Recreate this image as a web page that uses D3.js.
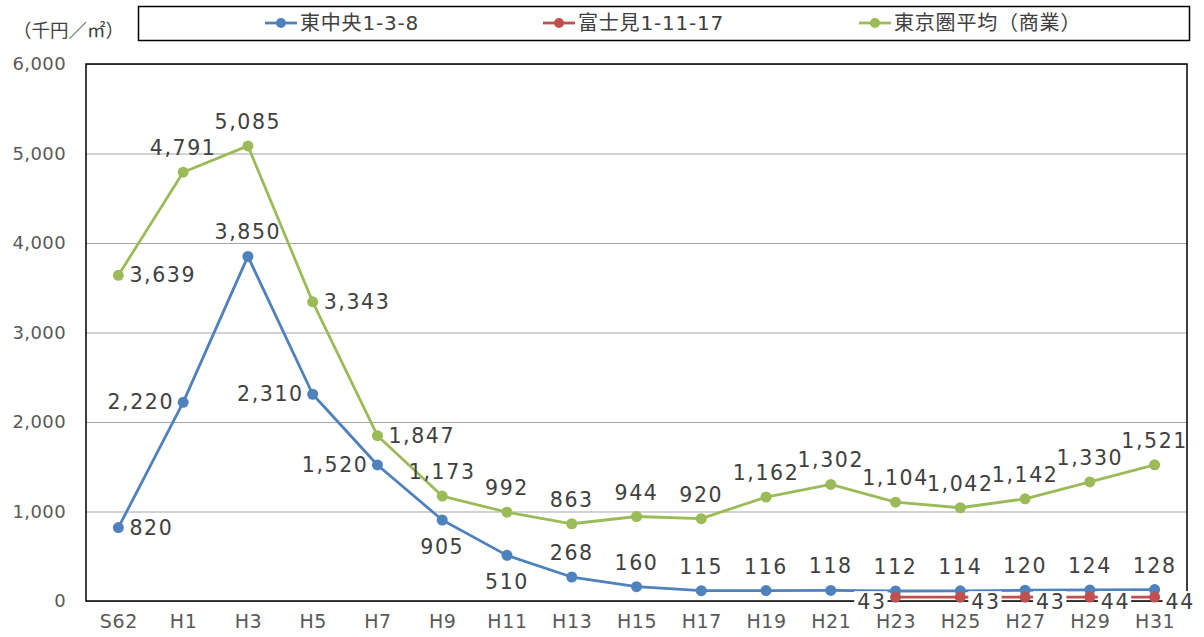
<!DOCTYPE html>
<html>
<head>
<meta charset="utf-8">
<script src="https://cdn.jsdelivr.net/npm/d3@7"></script>
<style>
  html, body { margin: 0; padding: 0; background: #fff; }
  svg { display: block; }
  text { font-family: "DejaVu Sans", "Noto Sans CJK JP", sans-serif; }
</style>
</head>
<body>
<svg id="chart" width="1204" height="637"></svg>
<script>
// ---- data ----
const categories = ["S62","H1","H3","H5","H7","H9","H11","H13","H15","H17","H19","H21","H23","H25","H27","H29","H31"];
const seriesNames = ["東中央1-3-8", "富士見1-11-17", "東京圏平均（商業）"];
const higashiChuo = [820,2220,3850,2310,1520,905,510,268,160,115,116,118,112,114,120,124,128];
const fujimi = [null,null,null,null,null,null,null,null,null,null,null,null,43,43,43,44,44];
const tokyoAvg = [3639,4791,5085,3343,1847,1173,992,863,944,920,1162,1302,1104,1042,1142,1330,1521];
const yTicks = [0,1000,2000,3000,4000,5000,6000];
const yUnit = "（千円／㎡）";
// label placement (t=above, b=below, l=left, r=right)
const blueLabelPos = ["r","l","t","l","l","b","b","t","t","t","t","t","t","t","t","t","t"];
const redLabelPos  = ["r","r","r","r","r","r","r","r","r","r","r","r","l","r","r","r","r"];
const greenLabelPos= ["r","t","t","r","r","t","t","t","t","t","t","t","t","t","t","t","t"];
const colors = ["#4F81BD", "#C0504D", "#9BBB59"];

// ---- layout ----
const svg = d3.select("#chart");
const L = 86, R = 1187, T = 64, B = 601;
const x = d3.scalePoint().domain(categories).range([L, R]).padding(0.5);
const y = d3.scaleLinear().domain([0, 6000]).range([B, T]);
const fmt = d3.format(",");

// gridlines + y axis
const yAxis = svg.append("g").attr("transform", `translate(${L},0)`)
  .call(d3.axisLeft(y).tickValues(yTicks).tickSize(-(R - L)).tickFormat(fmt).tickPadding(20));
yAxis.select(".domain").remove();
yAxis.selectAll(".tick line").attr("stroke", "#a6a6a6").attr("stroke-width", 1.2);
yAxis.selectAll(".tick text").attr("fill", "#595959").attr("font-size", 18).attr("letter-spacing", 0.4);

// x axis labels
const xAxis = svg.append("g").attr("transform", `translate(0,${B})`)
  .call(d3.axisBottom(x).tickSize(0).tickPadding(14));
xAxis.select(".domain").remove();
xAxis.selectAll(".tick text").attr("fill", "#595959").attr("font-size", 19).attr("letter-spacing", 0.6);

// plot frame
svg.append("rect").attr("x", L).attr("y", T).attr("width", R - L).attr("height", B - T)
  .attr("fill", "none").attr("stroke", "#000").attr("stroke-width", 1.5);

// unit label
svg.append("text").attr("x", 13).attr("y", 37).attr("font-size", 18.5).attr("fill", "#404040")
  .style("font-family", "'Noto Sans CJK JP', sans-serif").text(yUnit);

// series
const series = [
  { name: seriesNames[0], values: higashiChuo, pos: blueLabelPos, color: colors[0], bg: false },
  { name: seriesNames[1], values: fujimi, pos: redLabelPos, color: colors[1], bg: true },
  { name: seriesNames[2], values: tokyoAvg, pos: greenLabelPos, color: colors[2], bg: false }
];

const line = d3.line()
  .defined(d => d.v != null)
  .x(d => x(d.c)).y(d => y(d.v));

const labelLayer = [];
series.forEach(s => {
  const pts = categories.map((c, i) => ({ c, v: s.values[i], p: s.pos[i] }));
  const g = svg.append("g");
  g.append("path").datum(pts).attr("d", line)
    .attr("fill", "none").attr("stroke", s.color).attr("stroke-width", 2.8)
    .attr("stroke-linejoin", "round");
  g.selectAll("circle").data(pts.filter(d => d.v != null)).join("circle")
    .attr("cx", d => x(d.c)).attr("cy", d => y(d.v)).attr("r", 5.5)
    .attr("fill", s.color);
  labelLayer.push({ s, pts: pts.filter(d => d.v != null) });
});

// data labels
labelLayer.forEach(({ s, pts }) => {
  const g = svg.append("g");
  pts.forEach(d => {
    const px = x(d.c), py = y(d.v);
    let tx = px, ty = py, anchor = "middle";
    if (d.p === "t") { ty = py - 24; }
    else if (d.p === "b") { ty = py + 27; }
    else if (d.p === "l") { tx = px - 9; anchor = "end"; }
    else if (d.p === "r") { tx = px + 11; anchor = "start"; }
    if (s.bg) ty += 5;
    const t = g.append("text").attr("x", tx).attr("y", ty)
      .attr("text-anchor", anchor).attr("dominant-baseline", "central")
      .attr("font-size", 20.5).attr("letter-spacing", 1.6).attr("fill", "#404040")
      .text(fmt(d.v));
    if (s.bg) {
      const bb = t.node().getBBox();
      g.insert("rect", () => t.node())
        .attr("x", bb.x - 3).attr("y", bb.y + 1).attr("width", bb.width + 4).attr("height", bb.height - 2)
        .attr("fill", "#fff");
    }
  });
});

// legend
const lg = svg.append("g");
lg.append("rect").attr("x", 138.5).attr("y", 6.5).attr("width", 1051).attr("height", 34)
  .attr("fill", "#fff").attr("stroke", "#000").attr("stroke-width", 1.5);
const legendX = [265, 543, 859];
series.forEach((s, i) => {
  const gx = legendX[i];
  lg.append("line").attr("x1", gx).attr("x2", gx + 32).attr("y1", 23).attr("y2", 23)
    .attr("stroke", s.color).attr("stroke-width", 2.8);
  lg.append("circle").attr("cx", gx + 16).attr("cy", 23).attr("r", 5).attr("fill", s.color);
  lg.append("text").attr("x", gx + 35).attr("y", 23).attr("dominant-baseline", "central")
    .attr("font-size", 20).attr("letter-spacing", 0.8).attr("fill", "#404040").text(s.name);
});
</script>
</body>
</html>
